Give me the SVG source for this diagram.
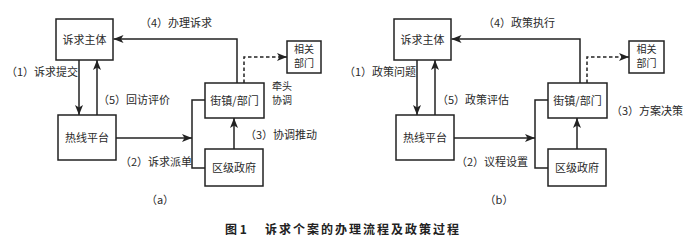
<svg xmlns="http://www.w3.org/2000/svg" width="692" height="245" viewBox="0 0 692 245">
<style>
.box{fill:#fff;stroke:#222;stroke-width:1.5}
.ln{fill:none;stroke:#222;stroke-width:1.5}
.ds{fill:none;stroke:#222;stroke-width:1.5;stroke-dasharray:3.5 2.5}
text{font-family:"Noto Sans CJK SC","Noto Sans",sans-serif;font-size:11px;fill:#2a2a2a}
.c{text-anchor:middle}
.sm{font-size:10px}
.cap{font-size:12px;font-weight:bold;fill:#222}
</style>
<defs>
<marker id="ah" viewBox="0 0 10 8" refX="10" refY="4" markerWidth="10" markerHeight="8" markerUnits="userSpaceOnUse" orient="auto">
<path d="M0,0 L10,4 L0,8 L2.5,4 Z" fill="#222"/>
</marker>
</defs>
<rect width="692" height="245" fill="#fff"/>
<g id="connectors">
<path class="ln" d="M237,83 V39 H113.5" marker-end="url(#ah)"/>
<path class="ds" d="M244,83 V57 H287" marker-end="url(#ah)"/>
<path class="ln" d="M79,60 V115" marker-end="url(#ah)"/>
<path class="ln" d="M97,115 V60" marker-end="url(#ah)"/>
<path class="ln" d="M116,138 H192" marker-end="url(#ah)"/>
<path class="ln" d="M205,100 H192 V168 H205"/>
<path class="ln" d="M234,149 V118" marker-end="url(#ah)"/>
<path class="ln" d="M580,83 V39 H451.5" marker-end="url(#ah)"/>
<path class="ds" d="M587,83 V57 H629" marker-end="url(#ah)"/>
<path class="ln" d="M417,60 V115" marker-end="url(#ah)"/>
<path class="ln" d="M435,115 V60" marker-end="url(#ah)"/>
<path class="ln" d="M454,138 H535" marker-end="url(#ah)"/>
<path class="ln" d="M548,100 H535 V168 H548"/>
<path class="ln" d="M577,149 V118" marker-end="url(#ah)"/>
</g>
<g id="a-subject"><rect class="box" x="56" y="19" width="57" height="41"/><text class="c" x="84.5" y="44">诉求主体</text></g>
<g id="a-hotline"><rect class="box" x="58" y="115" width="58" height="45"/><text class="c" x="87" y="142">热线平台</text></g>
<g id="a-street"><rect class="box" x="205" y="83" width="59" height="35"/><text class="c" x="234.5" y="105">街镇/部门</text></g>
<g id="a-district"><rect class="box" x="205" y="149" width="58" height="37"/><text class="c" x="234" y="172">区级政府</text></g>
<g id="a-related"><rect class="box" x="287" y="41" width="34" height="32"/><text class="c sm" x="304" y="53">相关</text><text class="c sm" x="304" y="67">部门</text></g>
<g id="b-subject"><rect class="box" x="394" y="19" width="57" height="41"/><text class="c" x="422.5" y="44">诉求主体</text></g>
<g id="b-hotline"><rect class="box" x="396" y="115" width="58" height="45"/><text class="c" x="425" y="142">热线平台</text></g>
<g id="b-street"><rect class="box" x="548" y="83" width="59" height="35"/><text class="c" x="577.5" y="105">街镇/部门</text></g>
<g id="b-district"><rect class="box" x="548" y="149" width="58" height="37"/><text class="c" x="577" y="172">区级政府</text></g>
<g id="b-related"><rect class="box" x="629" y="41" width="35" height="32"/><text class="c sm" x="646.5" y="53">相关</text><text class="c sm" x="646.5" y="67">部门</text></g>
<g id="labels">
<text x="140" y="27">（4）办理诉求</text>
<text x="6" y="76">（1）诉求提交</text>
<text x="98" y="104">（5）回访评价</text>
<text class="sm" x="272" y="89.5">牵头</text>
<text class="sm" x="272" y="103.5">协调</text>
<text x="245" y="139">（3）协调推动</text>
<text x="120" y="166">（2）诉求派单</text>
<text class="c" x="160" y="204">（a）</text>
<text x="483" y="27">（4）政策执行</text>
<text x="344" y="76">（1）政策问题</text>
<text x="437" y="104">（5）政策评估</text>
<text x="611" y="115">（3）方案决策</text>
<text x="456" y="166">（2）议程设置</text>
<text class="c" x="499" y="204">（b）</text>
<text class="cap" x="225" y="233.5">图 1</text>
<text class="cap" x="265" y="233.5" letter-spacing="2">诉求个案的办理流程及政策过程</text>
</g>
</svg>
